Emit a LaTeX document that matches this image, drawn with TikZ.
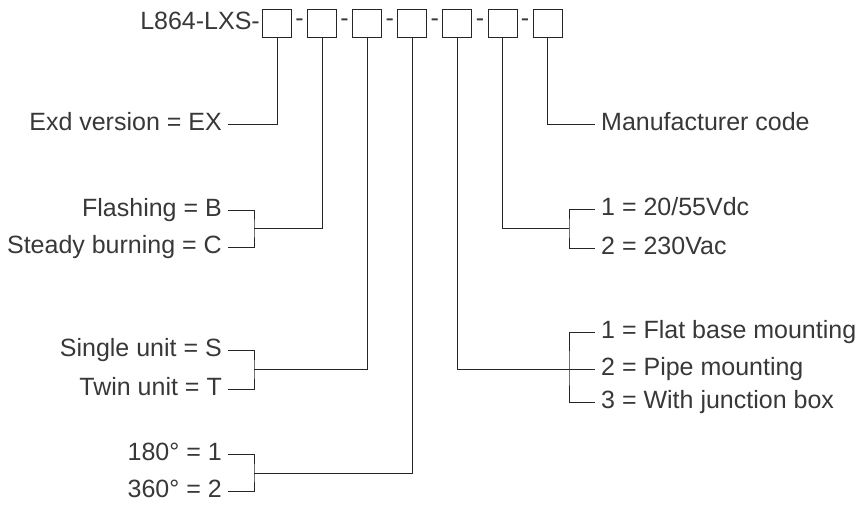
\documentclass[tikz,border=0pt]{standalone}
\usepackage{fontspec}
\setmainfont{Liberation Sans}
\usetikzlibrary{positioning}

\begin{document}
\begin{tikzpicture}[x=1pt, y=-1pt,
    codebox/.style={draw, black!85, line width=1pt, minimum width=29pt,
                    minimum height=28pt, inner sep=0pt},
    sepdash/.style={font=\fontsize{25}{29}\selectfont, text=black!78,
                    minimum width=14.7pt, inner sep=0pt},
    lbl/.style={font=\fontsize{25}{29}\selectfont, text=black!78, inner sep=6pt,
                text height=18.7pt, text depth=4.8pt},
    wire/.style={line width=1pt, black!85},
  ]
  \useasboundingbox (0,0) rectangle (863,504);

  % === Code boxes ===
  \node[codebox] (b1) at (277,23) {};
  \node[sepdash, right=0pt of b1] (d1) {-};
  \node[codebox, right=0pt of d1] (b2) {};
  \node[sepdash, right=0pt of b2] (d2) {-};
  \node[codebox, right=0pt of d2] (b3) {};
  \node[sepdash, right=0pt of b3] (d3) {-};
  \node[codebox, right=0pt of d3] (b4) {};
  \node[sepdash, right=0pt of b4] (d4) {-};
  \node[codebox, right=0pt of d4] (b5) {};
  \node[sepdash, right=0pt of b5] (d5) {-};
  \node[codebox, right=0pt of d5] (b6) {};
  \node[sepdash, right=0pt of b6] (d6) {-};
  \node[codebox, right=0pt of d6] (b7) {};
  \node[lbl, inner sep=1pt, left=1pt of b1] (prefix) {L864-LXS-};

  % === Left side options ===
  \node[lbl, anchor=east] (exd) at (228,124) {Exd version = EX};

  \node[lbl, anchor=east] (flash) at (228,210) {Flashing = B};
  \node[lbl, anchor=east] (steady) at (228,247) {Steady burning = C};
  \coordinate (j2) at (254,228);

  \node[lbl, anchor=east] (single) at (228,350) {Single unit = S};
  \node[lbl, anchor=east] (twin) at (228,389) {Twin unit = T};
  \coordinate (j3) at (254,369);

  \node[lbl, anchor=east] (deg1) at (228,454) {180° = 1};
  \node[lbl, anchor=east] (deg2) at (228,491) {360° = 2};
  \coordinate (j4) at (254,473);

  % === Right side options ===
  \node[lbl, anchor=west] (mfr) at (595,124) {Manufacturer code};

  \node[lbl, anchor=west] (volt1) at (595,209) {1 = 20/55Vdc};
  \node[lbl, anchor=west] (volt2) at (595,248) {2 = 230Vac};
  \coordinate (j6) at (569,228);

  \node[lbl, anchor=west] (mount1) at (595,332) {1 = Flat base mounting};
  \node[lbl, anchor=west] (mount2) at (595,369) {2 = Pipe mounting};
  \node[lbl, anchor=west] (mount3) at (595,402) {3 = With junction box};
  \coordinate (j5) at (569,369);

  % Leaders
  \draw[wire] (b1.south) |- (exd.east);
  \draw[wire] (flash.east) -| (j2) |- (steady.east);
  \draw[wire] (b2.south) |- (j2);
  \draw[wire] (single.east) -| (j3) |- (twin.east);
  \draw[wire] (b3.south) |- (j3);
  \draw[wire] (deg1.east) -| (j4) |- (deg2.east);
  \draw[wire] (b4.south) |- (j4);
  \draw[wire] (mount1.west) -| (j5) |- (mount3.west);
  \draw[wire] (b5.south) |- (mount2.west);
  \draw[wire] (volt1.west) -| (j6) |- (volt2.west);
  \draw[wire] (b6.south) |- (j6);
  \draw[wire] (b7.south) |- (mfr.west);

\end{tikzpicture}
\end{document}
